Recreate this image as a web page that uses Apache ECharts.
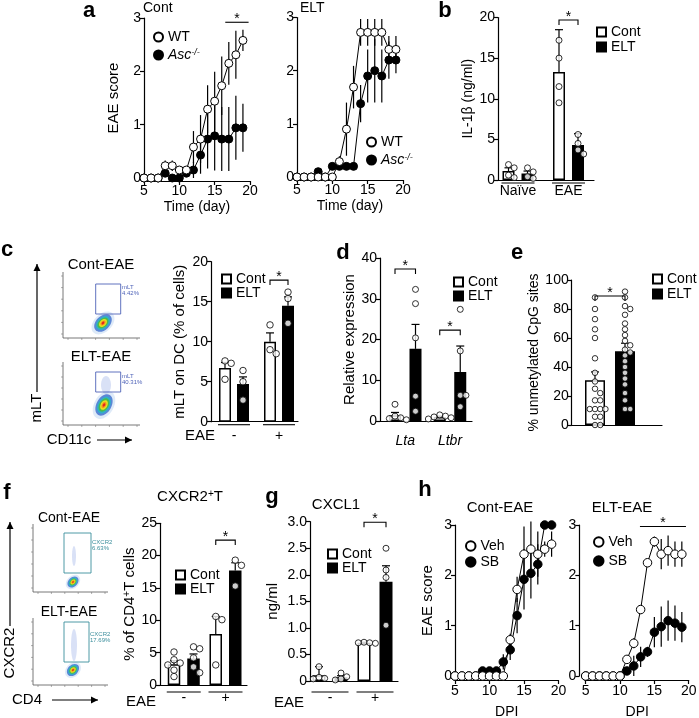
<!DOCTYPE html>
<html><head><meta charset="utf-8">
<script src="https://cdn.jsdelivr.net/npm/echarts@6/dist/echarts.min.js"></script>
<style>html,body{margin:0;padding:0;background:#fff}#c{width:699px;height:718px}</style>
</head><body><div id="c"></div><script>
const FONT = '"Liberation Sans", Arial, Helvetica, sans-serif';

// ---------------- DATA ----------------
// panel a (EAE score by day)
const aDays = [5,6,7,8,9,10,11,12,13,14,15,16,17,18,19];
const aContWT     = [0,0,0,0.23,0.23,0.15,0.15,0.58,0.73,1.29,1.44,1.73,2.15,2.31,2.58];
const aContWTErr  = [0,0,0,0.1,0.1,0.05,0.05,0.3,0.45,0.45,0.55,0.55,0.4,0.45,0.2];
const aContAsc    = [0,0,0,0.09,0,0,0.09,0.15,0.43,0.73,0.79,0.73,0.73,0.94,0.94];
const aContAscErr = [0,0,0,0.05,0,0,0.05,0.15,0.35,0.55,0.65,0.6,0.6,0.6,0.45];
const aEltWT      = [0,0,0,0,0,0,0.29,0.9,1.69,2.72,2.72,2.72,2.72,2.4,2.4];
const aEltWTErr   = [0,0,0,0,0,0,0.1,0.5,0.4,0.25,0.25,0.25,0.25,0.25,0.25];
const aEltAsc     = [0,0,0,0.1,0,0.2,0.2,0.2,0.2,1.38,1.9,2.0,1.9,2.2,2.2];
const aEltAscErr  = [0,0,0,0,0,0.05,0.05,0.05,0.05,0.35,0.5,0.6,0.5,0.35,0.25];
const aSig = [[16.5, 19.8, 2.92]];

// panel b
const bGroups = ['Naïve','EAE'];
const bContMean = [1.1, 13.3], bContErr = [0.4, 5.2];
const bEltMean  = [0.8, 4.3],  bEltErr  = [0.3, 1.4];
const bContPts = [[1.9,1.5,0.6,0.3],[17.2,15.0,11.5,9.5]];
const bEltPts  = [[1.5,1.0,0.4,0.2],[5.6,4.5,3.7,3.2]];
const bSig = [[1, 19.7]];

// panel c
const cGroups = ['-','+'];
const cContMean = [6.7, 10.0], cContErr = [0.7, 1.1];
const cEltMean  = [4.7, 14.5], cEltErr  = [0.9, 1.1];
const cContPts = [[7.6,7.3,5.3],[12.1,9.0,8.5]];
const cEltPts  = [[6.4,5.0,2.7],[16.2,15.4,12.3]];
const cSig = [[1, 17.7]];

// panel d
const dGroups = ['Lta','Ltbr'];
const dContMean = [1.4, 1.0],  dContErr = [0.7, 0.2];
const dEltMean  = [17.7, 12.0], dEltErr = [6.0, 6.4];
const dContPts = [[4.1,1.2,0.8,0.6,0.3],[1.5,1.2,1.0,0.8,0.5]];
const dEltPts  = [[32.3,28.8,20.4,6.1,2.4],[27.4,17.2,6.3,6.3,3.5]];
const dSig = [[0, 37.3],[1, 22.3]];

// panel e
const eGroups = [''];
const eContMean = [30.8], eContErr = [5.8];
const eEltMean  = [50.9], eEltErr  = [5.5];
const eContPts = [[88,80,73,66,60,46,36,30,25,22,17,17,11,11,11,11,5.7,5.7,0,0]];
const eEltPts  = [[92,88,82,80,76,70,66,62,58,55,52,50,48,44,40,36,32,28,22,17,11,11]];
const eSig = [[0, 89]];

// panel f
const fGroups = ['-','+'];
const fContMean = [3.2, 7.9],  fContErr = [0.55, 2.7];
const fEltMean  = [4.1, 17.7], fEltErr  = [0.7, 1.2];
const fContPts = [[5.1,3.9,3.4,3.1,2.3,1.3],[10.6,10.1,3.1]];
const fEltPts  = [[5.9,5.6,4.2,2.8,1.9],[19.3,18.5,15.3]];
const fSig = [[1, 22.4]];

// panel g
const gGroups = ['-','+'];
const gContMean = [0.11, 0.72], gContErr = [0.16, 0.01];
const gEltMean  = [0.07, 1.87], gEltErr  = [0.03, 0.3];
const gContPts = [[0.27,0.07,0.05,0.04],[0.73,0.72,0.71,0.72]];
const gEltPts  = [[0.15,0.08,0.04,0.02],[2.5,2.09,1.95,1.05]];
const gSig = [[1, 2.99]];

// panel h (DPI)
const hDays = [5,6,7,8,9,10,11,12,13,14,15,16,17,18,19];
const hContVeh    = [0,0,0,0,0,0,0,0,0.72,1.72,2.42,2.52,2.42,2.52,2.62];
const hContVehErr = [0,0,0,0,0,0,0,0,0.12,0.25,0.55,0.55,0.45,0.15,0.25];
const hContSB     = [0,0,0,0,0.1,0.1,0.1,0.28,0.52,1.2,1.92,2.04,2.22,3.0,3.0];
const hContSBErr  = [0,0,0,0,0,0,0,0.15,0.2,0.35,0.6,0.5,0.4,0,0];
const hEltVeh     = [0,0,0,0,0,0,0.33,0.65,1.32,2.25,2.67,2.42,2.49,2.42,2.42];
const hEltVehErr  = [0,0,0,0,0,0,0.05,0.1,0.05,0.05,0.1,0.3,0.3,0.25,0.25];
const hEltSB      = [0,0,0,0,0,0,0.1,0.2,0.38,0.48,0.87,0.98,1.1,1.05,0.97];
const hEltSBErr   = [0,0,0,0,0,0,0.05,0.2,0.2,0.1,0.3,0.4,0.4,0.35,0.3];
const hSig = [[12.9, 19.6, 2.97]];

// ---------------- LAYOUT ----------------
const grids=[], xAxes=[], yAxes=[], series=[], legends=[], graphics=[];
const LS = {color:'#000', width:1.2};
const TICK = {show:true, inside:false, length:4, lineStyle:LS};
const LBL = {color:'#000', fontSize:14, fontFamily:FONT, margin:3};
const NAME = {color:'#000', fontSize:15, fontFamily:FONT};

function errSeries(idx, items, cap) {
  return {type:'custom', xAxisIndex:idx, yAxisIndex:idx, z:3, silent:true, data:items,
    encode:{x:0, y:[1,2]},
    renderItem(params, api){
      const x=api.value(0), lo=api.value(1), hi=api.value(2);
      const p1=api.coord([x,lo]), p2=api.coord([x,hi]);
      const ch=[{type:'line', shape:{x1:p1[0],y1:p1[1],x2:p2[0],y2:p2[1]}, style:{stroke:'#000', lineWidth:1.2}}];
      if (cap) ch.push({type:'line', shape:{x1:p2[0]-cap/2,y1:p2[1],x2:p2[0]+cap/2,y2:p2[1]}, style:{stroke:'#000', lineWidth:1.2}});
      return {type:'group', children:ch};
    }};
}
function sigSeries(idx, items, tick) {
  return {type:'custom', xAxisIndex:idx, yAxisIndex:idx, z:6, silent:true, data:items,
    encode:{x:[0,1], y:2},
    renderItem(params, api){
      const a=api.coord([api.value(0), api.value(2)]), b=api.coord([api.value(1), api.value(2)]);
      const pts = tick ? [[a[0],a[1]+tick],[a[0],a[1]],[b[0],b[1]],[b[0],b[1]+tick]] : [[a[0],a[1]],[b[0],b[1]]];
      return {type:'group', children:[
        {type:'polyline', shape:{points:pts}, style:{stroke:'#000', lineWidth:1.1, fill:'none'}},
        {type:'text', style:{text:'*', x:(a[0]+b[0])/2, y:a[1]+4, align:'center', verticalAlign:'bottom',
          textAlign:'center', textVerticalAlign:'bottom', font:'14px '+FONT, fill:'#000'}}
      ]};
    }};
}
function underSeries(idx, items, off) {
  return {type:'custom', xAxisIndex:idx, yAxisIndex:idx, z:6, silent:true, data:items,
    encode:{x:[0,1], y:2},
    renderItem(params, api){
      const a=api.coord([api.value(0), 0]), b=api.coord([api.value(1), 0]);
      return {type:'line', shape:{x1:a[0], y1:a[1]+off, x2:b[0], y2:b[1]+off}, style:{stroke:'#000', lineWidth:1.1}};
    }};
}
function lineSeries(idx, name, days, vals, filled, size) {
  return {type:'line', name, xAxisIndex:idx, yAxisIndex:idx, data:days.map((d,i)=>[d, vals[i]]),
    symbol:'circle', symbolSize:size, showSymbol:true, z: filled?4:5, animation:false,
    lineStyle:{color:'#000', width:1}, emphasis:{disabled:true},
    itemStyle:{color: filled?'#000':'#fff', borderColor:'#000', borderWidth:1}};
}
function errItems(days, vals, errs) {
  const out=[]; days.forEach((d,i)=>{ if (errs[i]>0) out.push([d, vals[i]-errs[i], vals[i]+errs[i]]); }); return out;
}

function linePanel(idx, r, o) {
  grids.push({left:r.l, top:r.t, width:r.w, height:r.h, containLabel:false, outerBoundsMode:'none'});
  xAxes.push({type:'value', gridIndex:idx, min:5, max:20, interval:5, offset:o.xOff,
    axisLine:{show:true, onZero:false, lineStyle:LS}, axisTick:TICK, splitLine:{show:false},
    axisLabel:Object.assign({}, LBL, {margin:o.xMargin}),
    name:o.xName, nameLocation:'middle', nameGap:o.xNameGap, nameTextStyle:Object.assign({}, NAME, {fontSize:14})});
  yAxes.push({type:'value', gridIndex:idx, min:0, max:3, interval:1, offset:o.yOff||0,
    axisLine:{show:true, onZero:false, lineStyle:LS}, axisTick:TICK, splitLine:{show:false},
    axisLabel:LBL, name:o.yName||'', nameLocation:'middle', nameGap:o.yNameGap||20, nameTextStyle:NAME});
  series.push(errSeries(idx, errItems(o.days, o.v2, o.e2), 0));
  series.push(errSeries(idx, errItems(o.days, o.v1, o.e1), 0));
  series.push(lineSeries(idx, o.n2, o.days, o.v2, true, o.size));
  series.push(lineSeries(idx, o.n1, o.days, o.v1, false, o.size));
  series.push(sigSeries(idx, o.sig, 0));
}

function swarm(vals, xc, ppuX, ppuY, size) {
  const out = new Array(vals.length), placed = [];
  const order = vals.map((v,i)=>i).sort((a,b)=>vals[b]-vals[a]);
  order.forEach(i=>{
    const py = vals[i]*ppuY;
    const cands=[0,1,-1,2,-2,3,-3,4,-4];
    let done=false;
    for (const k of cands) {
      const px = k*size*0.95;
      if (placed.every(p=>Math.hypot(p[0]-px, p[1]-py) >= size*0.92)) {
        placed.push([px,py]); out[i]=[xc+px/ppuX, vals[i]]; done=true; break;
      }
    }
    if (!done) out[i]=[xc, vals[i]];
  });
  return out;
}

function barPanel(idx, P, D) {
  const ppu = P.c2 ? P.c2-P.c1 : 30;
  const xMin = 1 - (P.c1-P.axis)/ppu, xMax = 1 + (P.right-P.c1)/ppu;
  const ppuY = (P.y0-P.yTop)/D.yMax;
  const xC = g => g+1 - P.half/ppu, xE = g => g+1 + P.half/ppu;
  grids.push({left:P.axis, top:P.yTop, width:P.right-P.axis, height:P.y0-P.yTop, containLabel:false, outerBoundsMode:'none'});
  const hasLbl = D.groups.some(g=>g!=='');
  xAxes.push({type:'value', gridIndex:idx, min:xMin, max:xMax,
    axisLine:{show:true, onZero:false, lineStyle:LS}, axisTick:{show:false}, splitLine:{show:false},
    axisLabel:Object.assign({}, LBL, {show:hasLbl, margin:P.lm, fontStyle:D.italic?'italic':'normal',
      customValues:D.groups.map((g,i)=>i+1), formatter:v=>D.groups[Math.round(v)-1]||''})});
  yAxes.push({type:'value', gridIndex:idx, min:0, max:D.yMax, interval:D.yInt,
    axisLine:{show:true, onZero:false, lineStyle:LS}, axisTick:TICK, splitLine:{show:false},
    axisLabel:Object.assign({}, LBL, D.yFmt?{formatter:D.yFmt}:{}),
    name:D.yName, nameLocation:'middle', nameGap:D.yNameGap, nameTextStyle:Object.assign({}, NAME, D.nameStyle||{})});
  series.push({type:'bar', name:'Cont', xAxisIndex:idx, yAxisIndex:idx, barWidth:P.barW, barGap:'-100%', z:2,
    data:D.contMean.map((m,g)=>[xC(g), m]), itemStyle:{color:'#fff', borderColor:'#000', borderWidth:1.5}, emphasis:{disabled:true}});
  series.push({type:'bar', name:'ELT', xAxisIndex:idx, yAxisIndex:idx, barWidth:P.barW, barGap:'-100%', z:2,
    data:D.eltMean.map((m,g)=>[xE(g), m]), itemStyle:{color:'#000', borderColor:'#000', borderWidth:1.5}, emphasis:{disabled:true}});
  const errs=[];
  D.contMean.forEach((m,g)=>{ if (D.contErr[g]>0) errs.push([xC(g), m, m+D.contErr[g]]); });
  D.eltMean.forEach((m,g)=>{ if (D.eltErr[g]>0) errs.push([xE(g), m, m+D.eltErr[g]]); });
  series.push(errSeries(idx, errs, 8));
  let pts=[];
  D.contPts.forEach((arr,g)=>{ pts = pts.concat(swarm(arr, xC(g), ppu, ppuY, P.pt)); });
  D.eltPts.forEach((arr,g)=>{ pts = pts.concat(swarm(arr, xE(g), ppu, ppuY, P.pt)); });
  series.push({type:'scatter', name:'points', xAxisIndex:idx, yAxisIndex:idx, z:5, symbol:'circle', symbolSize:P.pt,
    data:pts, itemStyle:{color:'#fff', borderColor:'#000', borderWidth:1}, emphasis:{disabled:true}});
  series.push(sigSeries(idx, D.sig.map(s=>[xC(s[0]), xE(s[0]), s[1]]), 5));
  if (P.under != null) {
    const hw = (P.barW/2 + 1)/ppu;
    series.push(underSeries(idx, D.groups.map((g,i)=>[xC(i)-hw, xE(i)+hw, 0]), P.under));
  }
}

// panel a
linePanel(0, {l:144, t:18, w:106, h:160}, {days:aDays, v1:aContWT, e1:aContWTErr, v2:aContAsc, e2:aContAscErr,
  n1:'WT', n2:'Asc-/-', size:8, sig:aSig, xOff:3, xMargin:3, xName:'Time (day)', xNameGap:19, yName:'EAE score', yNameGap:23});
linePanel(1, {l:297, t:17.5, w:106, h:159.5}, {days:aDays, v1:aEltWT, e1:aEltWTErr, v2:aEltAsc, e2:aEltAscErr,
  n1:'WT', n2:'Asc-/-', size:8, sig:[], xOff:3, xMargin:3, xName:'Time (day)', xNameGap:19});

// bar panels
const PL = {
  b:{axis:498, c1:518, c2:568.5, half:9.5, right:594, barW:12, y0:180, yTop:17.5, lm:4, under:3, pt:6},
  c:{axis:211, c1:234, c2:279, half:9, right:298, barW:12, y0:421.7, yTop:261.7, lm:7, under:3, pt:6.5},
  d:{axis:380, c1:405.25, c2:450, half:10.25, right:472, barW:12, y0:421, yTop:258, lm:13, under:null, pt:6},
  e:{axis:571.7, c1:610, c2:null, half:15, right:662, barW:20, y0:425, yTop:280, lm:4, under:null, pt:5.5},
  f:{axis:160, c1:183.75, c2:225.5, half:9.75, right:247, barW:12.5, y0:685, yTop:523.3, lm:6, under:7, pt:6.5},
  g:{axis:310, c1:330, c2:375, half:11, right:398, barW:13, y0:681, yTop:521.7, lm:10, under:11, pt:6},
};
barPanel(2, PL.b, {groups:bGroups, contMean:bContMean, contErr:bContErr, eltMean:bEltMean, eltErr:bEltErr,
  contPts:bContPts, eltPts:bEltPts, sig:bSig, yMax:20, yInt:5, yName:'IL-1β (ng/ml)', yNameGap:22, nameStyle:{fontSize:14}});
barPanel(3, PL.c, {groups:cGroups, contMean:cContMean, contErr:cContErr, eltMean:cEltMean, eltErr:cEltErr,
  contPts:cContPts, eltPts:cEltPts, sig:cSig, yMax:20, yInt:5, yName:'mLT on DC (% of cells)', yNameGap:24});
barPanel(4, PL.d, {groups:dGroups, italic:true, contMean:dContMean, contErr:dContErr, eltMean:dEltMean, eltErr:dEltErr,
  contPts:dContPts, eltPts:dEltPts, sig:dSig, yMax:40, yInt:10, yName:'Relative expression', yNameGap:17});
barPanel(5, PL.e, {groups:eGroups, contMean:eContMean, contErr:eContErr, eltMean:eEltMean, eltErr:eEltErr,
  contPts:eContPts, eltPts:eEltPts, sig:eSig, yMax:100, yInt:20, yName:'% unmetylated CpG sites', yNameGap:30, nameStyle:{fontSize:14}});
barPanel(6, PL.f, {groups:fGroups, contMean:fContMean, contErr:fContErr, eltMean:fEltMean, eltErr:fEltErr,
  contPts:fContPts, eltPts:fEltPts, sig:fSig, yMax:25, yInt:5, yName:'% of CD4{s|+}T cells', yNameGap:22,
  nameStyle:{rich:{s:{fontSize:10, fontFamily:FONT, color:'#000', verticalAlign:'top'}}}});
barPanel(7, PL.g, {groups:gGroups, contMean:gContMean, contErr:gContErr, eltMean:gEltMean, eltErr:gEltErr,
  contPts:gContPts, eltPts:gEltPts, sig:gSig, yMax:3, yInt:0.5, yName:'ng/ml', yNameGap:30,
  yFmt:v=>v===0?'0':v.toFixed(1)});

// panel h
linePanel(8, {l:455, t:525, w:103.5, h:151}, {days:hDays, v1:hContVeh, e1:hContVehErr, v2:hContSB, e2:hContSBErr,
  n1:'Veh', n2:'SB', size:8.5, sig:[], xOff:4, xMargin:4, xName:'DPI', xNameGap:25, yName:'EAE score', yNameGap:20});
linePanel(9, {l:585.7, t:525, w:103, h:151}, {days:hDays, v1:hEltVeh, e1:hEltVehErr, v2:hEltSB, e2:hEltSBErr,
  n1:'Veh', n2:'SB', size:8.5, sig:hSig, xOff:4, xMargin:4, xName:'DPI', xNameGap:25, yOff:6.4});

// legends
const LT = {color:'#000', fontSize:14, fontFamily:FONT,
  rich:{i:{fontStyle:'italic', fontSize:14, fontFamily:FONT, color:'#000'},
        s:{fontStyle:'italic', fontSize:9, fontFamily:FONT, color:'#000', verticalAlign:'top'}}};
function leg(left, top, names, icon, size, gap) {
  legends.push({left, top, orient:'vertical', itemWidth:size, itemHeight:size, itemGap:gap, selectedMode:false,
    data:names.map(n=>({name:n, icon})), textStyle:LT,
    formatter:n=> n==='Asc-/-' ? '{i|Asc}{s|-/-}' : n});
}
leg(148, 25, ['WT','Asc-/-'], 'circle', 9, 4);
leg(361, 130, ['WT','Asc-/-'], 'circle', 9, 4);
leg(591, 20, ['Cont','ELT'], 'rect', 9, 1);
leg(216, 267, ['Cont','ELT'], 'rect', 9, 0);
leg(448, 270, ['Cont','ELT'], 'rect', 9, 0);
leg(647, 267, ['Cont','ELT'], 'rect', 9, 1);
leg(170, 563, ['Cont','ELT'], 'rect', 9, 0);
leg(322, 542, ['Cont','ELT'], 'rect', 9, 0);
leg(460, 534, ['Veh','SB'], 'circle', 9.5, 2);
leg(588, 530, ['Veh','SB'], 'circle', 9.5, 5);

// ---------------- GRAPHICS (texts, flow plots) ----------------
function txt(x, y, text, o) {
  o = o || {};
  graphics.push({type:'text', x, y, rotation:o.rot||0, silent:true, z:10,
    style:{text, fill:o.color||'#000', font:(o.weight||'normal')+' '+(o.size||15)+'px '+FONT,
      align:o.align||'left', verticalAlign:'middle', textAlign:o.align||'left', textVerticalAlign:'middle',
      rich:o.rich}});
}
function line(x1,y1,x2,y2,c,w){ graphics.push({type:'line', silent:true, shape:{x1,y1,x2,y2}, style:{stroke:c||'#000', lineWidth:w||1.2}}); }
function arrow(x1,y1,x2,y2){
  line(x1,y1,x2,y2,'#000',1.2);
  const ang=Math.atan2(y2-y1,x2-x1), L=7, W=3.5;
  const bx=x2-L*Math.cos(ang), by=y2-L*Math.sin(ang);
  graphics.push({type:'polygon', silent:true, shape:{points:[[x2,y2],[bx+W*Math.sin(ang), by-W*Math.cos(ang)],[bx-W*Math.sin(ang), by+W*Math.cos(ang)]]}, style:{fill:'#000'}});
}
const BLOB_COL = ['#c8dcf3','#5b86d6','#2fb0c8','#4dbb4a','#e8e020','#f3991e','#e2261f'];
const BLOB_SC  = [1.5, 1.15, 0.92, 0.72, 0.52, 0.34, 0.18];
function flow(o) {
  line(o.ax, o.ay0, o.ax, o.by, '#555', 0.8);
  line(o.ax, o.by, o.bx1, o.by, '#555', 0.8);
  for (let k=0;k<6;k++){ const tx=o.ax+5+k*(o.bx1-o.ax-8)/5; line(tx,o.by,tx,o.by+2,'#777',0.6); }
  for (let k=0;k<6;k++){ const ty=o.by-4-k*(o.by-o.ay0-8)/5; line(o.ax-2,ty,o.ax,ty,'#777',0.6); }
  BLOB_COL.forEach((c,i)=>{
    graphics.push({type:'ellipse', silent:true, x:o.blob[0], y:o.blob[1], rotation:o.blob[4],
      shape:{cx:0, cy:0, rx:o.blob[2]*BLOB_SC[i], ry:o.blob[3]*BLOB_SC[i]},
      style:{fill:c, opacity:i===0?0.6:1}});
  });
  if (o.streak) graphics.push({type:'ellipse', silent:true, shape:{cx:o.streak[0], cy:o.streak[1], rx:o.streak[2], ry:o.streak[3]}, style:{fill:'#b9c9ee', opacity:0.55}});
  graphics.push({type:'rect', silent:true, shape:{x:o.gate[0], y:o.gate[1], width:o.gate[2], height:o.gate[3]}, style:{fill:'none', stroke:o.gc, lineWidth:0.9}});
  txt(o.glab[0], o.glab[1], o.glab[2], {size:6, color:o.gc});
  txt(o.glab[0], o.glab[1]+6, o.glab[3], {size:6, color:o.gc});
  txt(o.title[0], o.title[1], o.title[2], {size:o.title[3], align:'center'});
}
// panel c flow plots
flow({ax:63, ay0:272, bx1:140, by:338, gate:[95.7,284,25,30], gc:'#4f63b8', glab:[122,287,'mLT','4.42%'],
  blob:[103,323,9,6,Math.PI/4], title:[101,265,'Cont-EAE',15]});
flow({ax:63, ay0:362, bx1:140, by:425, gate:[95.7,372,25,20], gc:'#4f63b8', glab:[122,376,'mLT','40.31%'],
  blob:[104,405,10,6.5,Math.PI/3], streak:[106,385,5,9], title:[101,357,'ELT-EAE',15]});
txt(69, 440, 'CD11c', {size:15, align:'center'}); arrow(97, 440, 132, 440);
txt(37, 408, 'mLT', {size:15, align:'center', rot:Math.PI/2}); arrow(37, 392, 37, 264);
// panel f flow plots
flow({ax:33, ay0:524, bx1:108, by:592, gate:[64,533,27,40], gc:'#3b8e9c', glab:[92,542,'CXCR2','6.63%'],
  blob:[73,582,5.5,4,Math.PI/4], streak:[74,556,2,10], title:[69,518,'Cont-EAE',14]});
flow({ax:33, ay0:618, bx1:108, by:685, gate:[64,622,25,40], gc:'#3b8e9c', glab:[90,634,'CXCR2','17.69%'],
  blob:[73,670,6,4.5,Math.PI/4], streak:[74,645,3,16], title:[69,612,'ELT-EAE',14]});
txt(27, 700, 'CD4', {size:15, align:'center'}); arrow(52, 700, 98, 700);
txt(10, 653, 'CXCR2', {size:15, align:'center', rot:Math.PI/2}); arrow(10, 626, 10, 522);

// titles & labels
txt(143, 8, 'Cont', {size:14});
txt(300, 8, 'ELT', {size:14});
txt(190, 497, 'CXCR2{s|+}T', {size:15, align:'center', rich:{s:{fontSize:10, fontFamily:FONT, fill:'#000', verticalAlign:'top'}}});
txt(336, 505, 'CXCL1', {size:15, align:'center'});
txt(500, 508, 'Cont-EAE', {size:15, align:'center'});
txt(622, 508, 'ELT-EAE', {size:15, align:'center'});
txt(200, 436, 'EAE', {size:15, align:'center'});
txt(141, 702, 'EAE', {size:15, align:'center'});
txt(289, 703, 'EAE', {size:15, align:'center'});
[['a',89,11],['b',445,11],['c',7,250],['d',343,253],['e',517,253],['f',7,493],['g',272,497],['h',425,490]]
  .forEach(p=>txt(p[1], p[2], p[0], {size:22, weight:'bold', align:'center'}));

const chart = echarts.init(document.getElementById('c'), null, {renderer:'canvas'});
chart.setOption({animation:false, backgroundColor:'#fff', grid:grids, xAxis:xAxes, yAxis:yAxes,
  legend:legends, series, graphic:{elements:graphics}, tooltip:{show:false}});
</script></body></html>
